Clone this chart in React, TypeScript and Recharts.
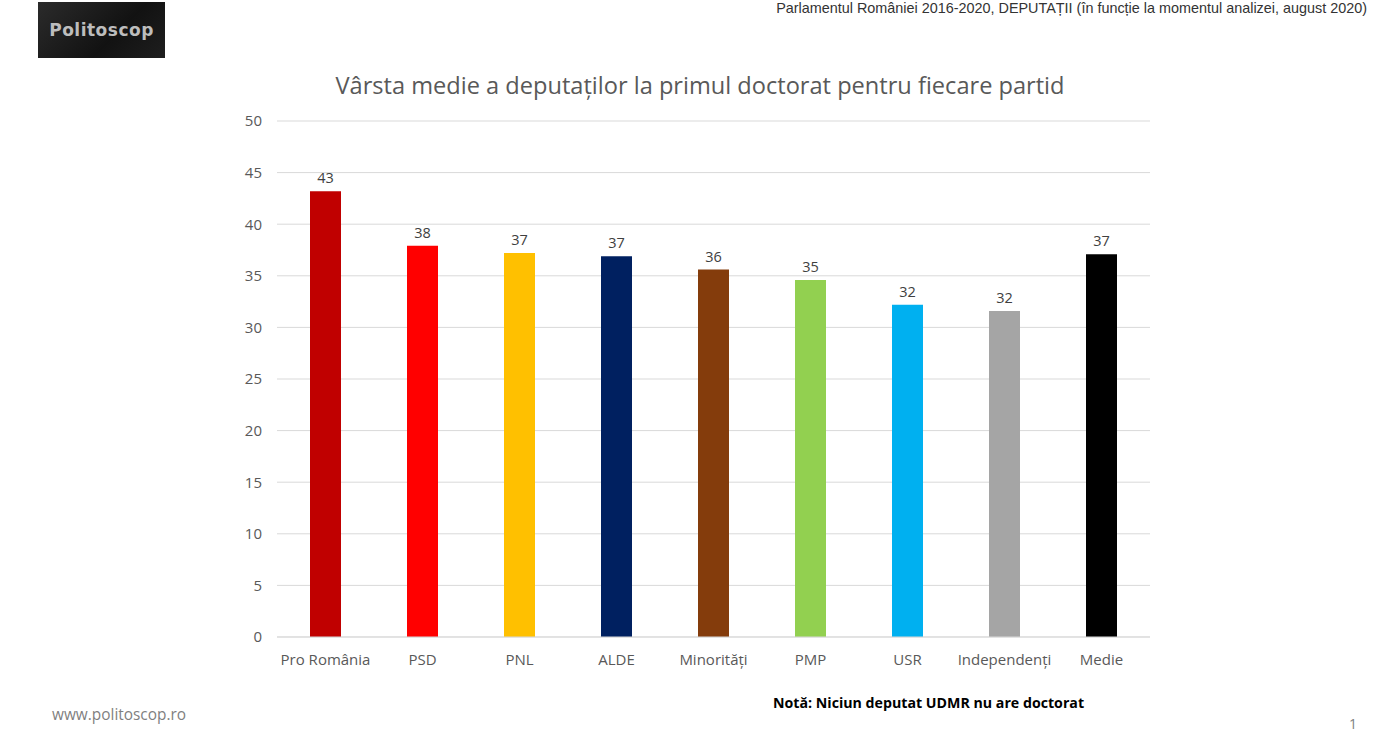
import React from "react";
import {
  BarChart,
  Bar,
  XAxis,
  YAxis,
  CartesianGrid,
  Cell,
  LabelList,
} from "recharts";

const parties = [
  "Pro România",
  "PSD",
  "PNL",
  "ALDE",
  "Minorități",
  "PMP",
  "USR",
  "Independenți",
  "Medie",
];
const avgAge = [43.2, 37.9, 37.2, 36.9, 35.6, 34.6, 32.2, 31.6, 37.1];
const yTicks = [0, 5, 10, 15, 20, 25, 30, 35, 40, 45, 50];

const barColors = [
  "#C00000",
  "#FF0000",
  "#FFC000",
  "#002060",
  "#843C0C",
  "#92D050",
  "#00B0F0",
  "#A5A5A5",
  "#000000",
];

const data = parties.map((p, i) => ({ party: p, value: avgAge[i] }));

const font = "'Open Sans', 'Noto Sans', sans-serif";

export default function App() {
  return (
    <div
      style={{
        position: "absolute",
        left: 0,
        top: 0,
        width: 1400,
        height: 735,
        background: "#fff",
        overflow: "hidden",
        fontFamily: font,
      }}
    >
      {/* logo */}
      <div
        style={{
          position: "absolute",
          left: 38,
          top: 2,
          width: 127,
          height: 56,
          background: "linear-gradient(135deg, #2b2b2b 0%, #121212 60%, #1e1e1e 100%)",
          color: "#bdbdbd",
          fontFamily: "'DejaVu Sans', sans-serif",
          fontWeight: 700,
          fontSize: 17,
          lineHeight: "56px",
          textAlign: "center",
          letterSpacing: 0.5,
        }}
      >
        Politoscop
      </div>

      <div
        style={{
          position: "absolute",
          right: 33,
          top: 0,
          fontFamily: "'Liberation Sans', Arial, sans-serif",
          fontSize: 14.4,
          color: "#333",
          whiteSpace: "nowrap",
        }}
      >
        Parlamentul României 2016-2020, DEPUTAȚII (în funcție la momentul analizei, august 2020)
      </div>

      <div
        style={{
          position: "absolute",
          left: 0,
          width: 1400,
          top: 69,
          textAlign: "center",
          fontSize: 23.6,
          color: "#595959",
        }}
      >
        Vârsta medie a deputaților la primul doctorat pentru fiecare partid
      </div>

      <div style={{ position: "absolute", left: 0, top: 0 }}>
        <BarChart
          width={1400}
          height={735}
          data={data}
          margin={{ top: 121, right: 250, bottom: 68, left: 237 }}
        >
          <CartesianGrid vertical={false} stroke="#d9d9d9" />
          <XAxis
            dataKey="party"
            height={30}
            tickLine={false}
            axisLine={{ stroke: "#d9d9d9" }}
            tick={{ fill: "#595959", fontSize: 15, fontFamily: font }}
            tickMargin={11}
            interval={0}
          />
          <YAxis
            width={40}
            domain={[0, 50]}
            ticks={yTicks}
            tickLine={false}
            axisLine={false}
            tick={{ fill: "#595959", fontSize: 15, fontFamily: font }}
            tickMargin={9}
          />
          <Bar dataKey="value" barSize={31} isAnimationActive={false}>
            {data.map((d, i) => (
              <Cell key={d.party} fill={barColors[i]} />
            ))}
            <LabelList
              dataKey="value"
              position="top"
              offset={8}
              formatter={(v: number) => Math.round(v)}
              style={{ fill: "#404040", fontSize: 14.5, fontFamily: font }}
            />
          </Bar>
        </BarChart>
      </div>

      <div
        style={{
          position: "absolute",
          left: 773,
          top: 693,
          fontSize: 14.2,
          fontWeight: 700,
          color: "#000",
        }}
      >
        Notă: Niciun deputat UDMR nu are doctorat
      </div>

      <div
        style={{
          position: "absolute",
          left: 52,
          top: 704,
          fontSize: 15.4,
          color: "#7f7f7f",
        }}
      >
        www.politoscop.ro
      </div>

      <div
        style={{
          position: "absolute",
          left: 1349,
          top: 714,
          fontSize: 14,
          color: "#7f7f7f",
        }}
      >
        1
      </div>
    </div>
  );
}
